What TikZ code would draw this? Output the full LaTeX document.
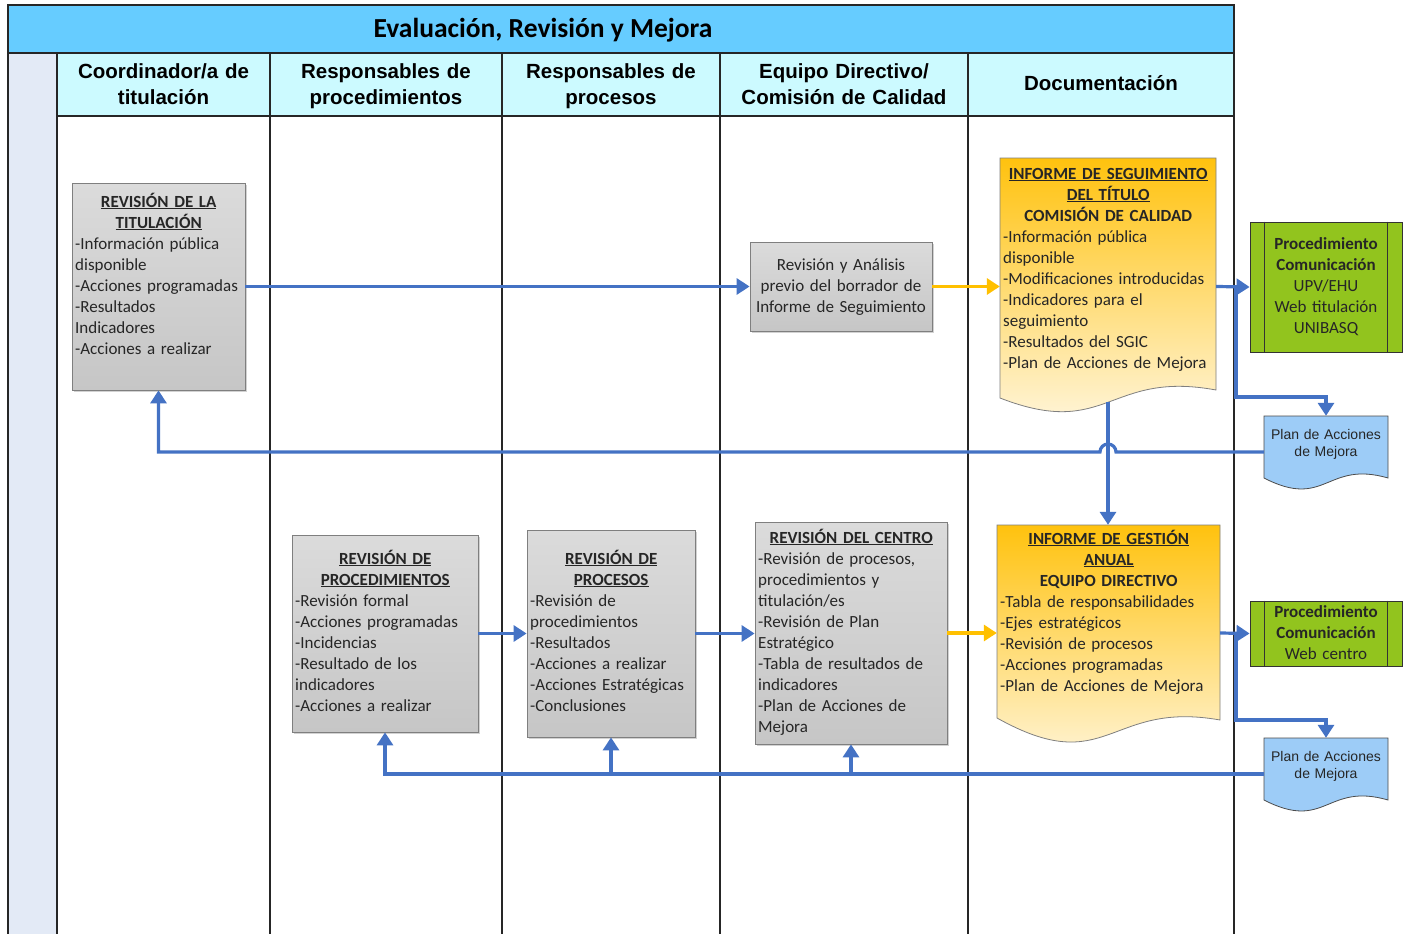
\documentclass[tikz,border=0pt]{standalone}
\usepackage{fontspec}
\setmainfont{Carlito}
\newfontfamily\arialf{Liberation Sans}
\usetikzlibrary{arrows.meta,calc,shadows}
\definecolor{flowblue}{HTML}{4472C4}
\definecolor{flowyellow}{HTML}{FFC000}
\definecolor{titlecol}{HTML}{66CCFF}
\definecolor{headcol}{HTML}{CCFAFF}
\definecolor{leftcol}{HTML}{E3EAF6}
\definecolor{boxtop}{HTML}{DBDBDB}
\definecolor{boxbot}{HTML}{C6C6C6}
\definecolor{boxline}{HTML}{7F7F7F}
\definecolor{ytop}{HTML}{FFC20E}
\definecolor{ybot}{HTML}{FFF8E6}
\definecolor{greencol}{HTML}{92C41E}
\definecolor{plancol}{HTML}{9DCCF7}
\newcommand\ctr[2]{\makebox[#1pt][c]{#2}}
\newcommand\tit[1]{\textbf{\underline{#1}}}
\begin{document}
\begin{tikzpicture}[x=1pt,y=-1pt,
  lane/.style={line width=1.6pt, draw=black!85},
  conn/.style={line width=3.2pt, draw=flowblue, -{Triangle[length=13pt,width=16pt]}},
  yconn/.style={line width=3.2pt, draw=flowyellow, -{Triangle[length=13pt,width=16pt]}},
  graybox/.style={draw=boxline, line width=0.8pt, top color=boxtop, bottom color=boxbot, inner sep=0pt,
    drop shadow={shadow xshift=2pt, shadow yshift=-2pt, opacity=0.35}},
  docline/.style={draw=boxline, line width=0.8pt},
  greenbox/.style={draw=black!80, fill=greencol, line width=0.8pt, inner sep=0pt, minimum width=152},
  anchorbox/.style={inner sep=0pt},
  btxt/.style={font=\fontsize{17}{21}\selectfont, text=black!85, inner sep=0pt, anchor=base west, text width=330pt, align=left},
  ctxt/.style={font=\fontsize{17}{21}\selectfont, text=black!85, inner sep=0pt, anchor=base, align=center},
  head/.style={font=\arialf\bfseries\fontsize{20.5}{25}\selectfont, inner sep=0pt, anchor=base, align=center, text width=240pt},
  plantxt/.style={font=\arialf\fontsize{14}{17}\selectfont, text=black!85, inner sep=0pt, anchor=base, align=center, text width=124pt}
]
\useasboundingbox (0,0) rectangle (1406,934);
\fill[white] (0,0) rectangle (1406,934);
% lanes
\fill[leftcol] (8,53) rectangle (57,934);
\fill[titlecol] (8,5) rectangle (1234,53);
\fill[headcol] (57,53) rectangle (1234,116);
\draw[lane] (8,934) -- (8,5) -- (1234,5) -- (1234,934);
\draw[lane] (8,53) -- (1234,53);
\draw[lane] (57,116) -- (1234,116);
\foreach \lx in {57,270,502,720,968} {\draw[lane] (\lx,53) -- (\lx,934);}
\node[font=\bfseries\fontsize{27.5}{30}\selectfont, inner sep=0pt, anchor=base] (title) at (543,38) {Evaluación, Revisión y Mejora};
\node[head] (h1) at (163.5,79) {Coordinador/a de\\titulación};
\node[head] (h2) at (386,79) {Responsables de\\procedimientos};
\node[head] (h3) at (611,79) {Responsables de\\procesos};
\node[head] (h4) at (844,79) {Equipo Directivo/\\Comisión de Calidad};
\node[head] (h5) at (1101,91) {Documentación};

% Revisión de la titulación
\node[graybox, minimum width=173, minimum height=207] (rt) at (158.5,286.5) {};
\node[btxt] (rtt) at (75,207) {\ctr{167}{\tit{REVISIÓN DE LA}}\\\ctr{167}{\tit{TITULACIÓN}}\\-Información pública\\disponible\\-Acciones programadas\\-Resultados\\Indicadores\\-Acciones a realizar};

% Revisión y Análisis
\node[graybox, minimum width=182, minimum height=89] (ra) at (841,286.5) {};
\node[ctxt, text width=182pt] (rat) at (841,270) {Revisión y Análisis\\previo del borrador de\\Informe de Seguimiento};

% Informe de seguimiento
\shadedraw[top color=ytop, bottom color=ybot, docline] (1000,158) -- (1216,158) -- (1216,390) .. controls (1108,370) and (1108,440) .. (1000,398) -- cycle;
\node[anchorbox, minimum width=216, minimum height=254] (seg) at (1108,285) {};
\node[btxt] (segt) at (1003,179) {\ctr{210}{\tit{INFORME DE SEGUIMIENTO}}\\\ctr{210}{\tit{DEL TÍTULO}}\\\ctr{210}{\textbf{COMISIÓN DE CALIDAD}}\\-Información pública\\disponible\\-Modificaciones introducidas\\-Indicadores para el\\seguimiento\\-Resultados del SGIC\\-Plan de Acciones de Mejora};
\coordinate (segbot) at (1108,402);

% Green box 1
\node[greenbox, minimum height=130] (g1) at (1326,287) {};
\draw[black!80, line width=0.8pt] ($(g1.north west)+(15,0)$) -- ($(g1.south west)+(15,0)$);
\draw[black!80, line width=0.8pt] ($(g1.north east)+(-15,0)$) -- ($(g1.south east)+(-15,0)$);
\node[ctxt, text width=152pt] (g1t) at (1326,249) {\textbf{Procedimiento}\\\textbf{Comunicación}\\UPV/EHU\\Web titulación\\UNIBASQ};

% Plan 1
\filldraw[fill=plancol, draw=black!70, line width=0.8pt] (1264,416) -- (1388,416) -- (1388,478) .. controls (1326,460) and (1326,510) .. (1264,478) -- cycle;
\node[anchorbox, minimum width=124, minimum height=72] (p1) at (1326,452) {};
\node[plantxt] (p1t) at (1326,439) {Plan de Acciones\\de Mejora};

% Revisión de procedimientos
\node[graybox, minimum width=186, minimum height=197] (rp) at (385,633.5) {};
\node[btxt] (rpt) at (295,564) {\ctr{180}{\tit{REVISIÓN DE}}\\\ctr{180}{\tit{PROCEDIMIENTOS}}\\-Revisión formal\\-Acciones programadas\\-Incidencias\\-Resultado de los\\indicadores\\-Acciones a realizar};

% Revisión de procesos
\node[graybox, minimum width=168, minimum height=207] (rpr) at (611,633.5) {};
\node[btxt] (rprt) at (530,564) {\ctr{162}{\tit{REVISIÓN DE}}\\\ctr{162}{\tit{PROCESOS}}\\-Revisión de\\procedimientos\\-Resultados\\-Acciones a realizar\\-Acciones Estratégicas\\-Conclusiones};

% Revisión del centro
\node[graybox, minimum width=192, minimum height=222] (rc) at (851,633) {};
\node[btxt] (rct) at (758,543) {\ctr{186}{\tit{REVISIÓN DEL CENTRO}}\\-Revisión de procesos,\\procedimientos y\\titulación/es\\-Revisión de Plan\\Estratégico\\-Tabla de resultados de\\indicadores\\-Plan de Acciones de\\Mejora};

% Informe de gestión
\shadedraw[top color=ytop, bottom color=ybot, docline] (997,525) -- (1220,525) -- (1220,720) .. controls (1108,700) and (1108,780) .. (997,718) -- cycle;
\node[anchorbox, minimum width=223, minimum height=217] (ges) at (1108.5,633.5) {};
\node[btxt] (gest) at (1000,544) {\ctr{217}{\tit{INFORME DE GESTIÓN}}\\\ctr{217}{\tit{ANUAL}}\\\ctr{217}{\textbf{EQUIPO DIRECTIVO}}\\-Tabla de responsabilidades\\-Ejes estratégicos\\-Revisión de procesos\\-Acciones programadas\\-Plan de Acciones de Mejora};

% Green box 2
\node[greenbox, minimum height=65] (g2) at (1326,633.5) {};
\draw[black!80, line width=0.8pt] ($(g2.north west)+(15,0)$) -- ($(g2.south west)+(15,0)$);
\draw[black!80, line width=0.8pt] ($(g2.north east)+(-15,0)$) -- ($(g2.south east)+(-15,0)$);
\node[ctxt, text width=152pt] (g2t) at (1326,617) {\textbf{Procedimiento}\\\textbf{Comunicación}\\Web centro};

% Plan 2
\filldraw[fill=plancol, draw=black!70, line width=0.8pt] (1264,738) -- (1388,738) -- (1388,800) .. controls (1326,782) and (1326,832) .. (1264,800) -- cycle;
\node[anchorbox, minimum width=124, minimum height=72] (p2) at (1326,774) {};
\node[plantxt] (p2t) at (1326,761) {Plan de Acciones\\de Mejora};

% connectors top
\draw[conn] (rt.east) -- (ra.west);
\draw[yconn] (ra.east) -- (ra.east -| seg.west);
\draw[conn] (ra.east -| seg.east) -- (g1.west);
\coordinate (j1) at (1236,286.5);
\draw[conn] (j1) -- (j1 |- 0,397) -| (p1.north);
\draw[conn] (segbot) -- (segbot |- ges.north);
\draw[conn] (p1.west) -- ($(segbot |- p1.west)+(8,0)$) arc[start angle=0,end angle=180,radius=8pt] -- (p1.west -| rt.south) -- (rt.south);

% connectors bottom
\draw[conn] (rp.east) -- (rp.east -| rpr.west);
\draw[conn] (rpr.east) -- (rpr.east -| rc.west);
\draw[yconn] (rc.east) -- (rc.east -| ges.west);
\draw[conn] (rc.east -| ges.east) -- (g2.west);
\coordinate (j2) at (1236,633.5);
\draw[conn] (j2) -- (j2 |- 0,720) -| (p2.north);
\draw[conn] (p2.west) -- (p2.west -| rp.south) -- (rp.south);
\draw[conn] (p2.west -| rpr.south) -- (rpr.south);
\draw[conn] (p2.west -| rc.south) -- (rc.south);
\end{tikzpicture}
\end{document}
